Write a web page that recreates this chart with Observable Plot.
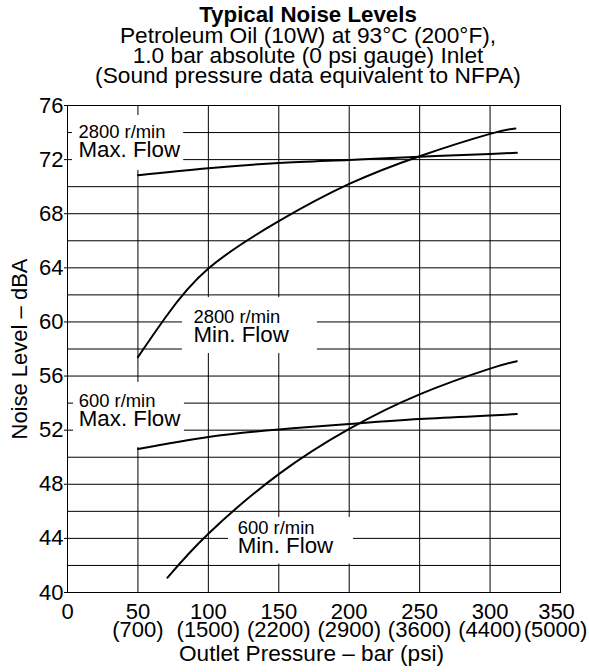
<!DOCTYPE html>
<html><head><meta charset="utf-8">
<script src="https://cdn.jsdelivr.net/npm/d3@7"></script>
<script src="https://cdn.jsdelivr.net/npm/@observablehq/plot@0.6"></script>
<style>
body{margin:0;background:#fff;font-family:"Liberation Sans",Arial,Helvetica,sans-serif;color:#000;}
#head{width:589px;height:88px;box-sizing:border-box;padding:5px 0 0 27px;text-align:center;font-size:22.7px;line-height:20px;}
#head .t{font-weight:bold;font-size:22.3px;}
#chart svg{display:block;}
</style></head><body>
<div id="head"><div class="t">Typical Noise Levels</div><div>Petroleum Oil (10W) at 93°C (200°F),</div><div>1.0 bar absolute (0 psi gauge) Inlet</div><div>(Sound pressure data equivalent to NFPA)</div></div>
<div id="chart"></div>
<script>
// ---- data ----
const xTicks = [0, 50, 100, 150, 200, 250, 300, 350];
const psiLabels = ["", "(700)", "(1500)", "(2200)", "(2900)", "(3600)", "(4400)", "(5000)"];
const yTicks = [40, 44, 48, 52, 56, 60, 64, 68, 72, 76];
const gridY = [42, 44, 46, 48, 50, 52, 54, 56, 58, 60, 62, 64, 66, 68, 70, 72, 74];
const gridX = [50, 100, 150, 200, 250, 300];

const bar2800Max = [50, 100, 150, 200, 250, 300, 319];
const dBA2800Max = [70.85, 71.37, 71.75, 71.98, 72.22, 72.42, 72.5];
const bar2800Min = [50, 70, 100, 150, 200, 250, 300, 318];
const dBA2800Min = [57.4, 60.4, 63.95, 67.45, 70.2, 72.25, 73.9, 74.3];
const bar600Max = [50, 100, 150, 200, 250, 300, 319];
const dBA600Max = [50.6, 51.5, 52.05, 52.45, 52.82, 53.08, 53.2];
const bar600Min = [71, 100, 150, 200, 250, 300, 319];
const dBA600Min = [41.1, 44.35, 48.75, 52.1, 54.65, 56.55, 57.1];

const labelSpeed = ["2800 r/min", "2800 r/min", "600 r/min", "600 r/min"];
const labelFlow = ["Max. Flow", "Min. Flow", "Max. Flow", "Min. Flow"];
// annotation layout (data units)
const labelX = [7.8, 89.4, 8.0, 120.9];
const labelY = [72.18, 58.5, 52.28, 42.89];
const boxX1 = [3.5, 81.6, 4.3, 114.3];
const boxX2 = [82.5, 177.4, 83, 203];
const boxY1 = [71.2, 57.67, 50.72, 42.1];
const boxY2 = [75.26, 61.8, 55.53, 45.55];

// ---- build tables ----
const series = [
  ["2800 Max", bar2800Max, dBA2800Max],
  ["2800 Min", bar2800Min, dBA2800Min],
  ["600 Max", bar600Max, dBA600Max],
  ["600 Min", bar600Min, dBA600Min]
];
const lineData = series.flatMap(([name, xs, ys]) => xs.map((x, i) => ({name, bar: x, dBA: ys[i]})));
const notes = labelSpeed.map((s, i) => ({
  speed: s, flow: labelFlow[i], x: labelX[i], y: labelY[i],
  x1: boxX1[i], x2: boxX2[i], y1: boxY1[i], y2: boxY2[i]
}));
const mainTicks = xTicks.slice(0, -1);
const lastTick = xTicks.slice(-1);
const psiOf = d => psiLabels[xTicks.indexOf(d)];

const chart = Plot.plot({
  width: 589,
  height: 584,
  marginTop: 17,
  marginBottom: 80,
  marginLeft: 67,
  marginRight: 29,
  style: {fontFamily: '"Liberation Sans", Arial, Helvetica, sans-serif', fontSize: "22px", background: "white", color: "black"},
  x: {domain: [0, 350]},
  y: {domain: [40, 76]},
  marks: [
    Plot.ruleY(gridY, {stroke: "#000", strokeWidth: 1}),
    Plot.ruleX(gridX, {stroke: "#000", strokeWidth: 1}),
    Plot.rect(notes, {x1: "x1", x2: "x2", y1: "y1", y2: "y2", fill: "white"}),
    Plot.frame({stroke: "#000"}),
    Plot.line(lineData, {x: "bar", y: "dBA", z: "name", curve: "natural", stroke: "#000", strokeWidth: 2}),
    Plot.text(notes, {x: "x", y: "y", text: "speed", dy: -19.5, textAnchor: "start", lineAnchor: "bottom", fontSize: 18.4, fill: "#000"}),
    Plot.text(notes, {x: "x", y: "y", text: "flow", textAnchor: "start", lineAnchor: "bottom", fontSize: 22.3, fill: "#000"}),
    Plot.axisY({ticks: yTicks, tickSize: 3, tickPadding: 1, fontSize: 22,
      label: "Noise Level – dBA", labelAnchor: "center", labelArrow: "none", labelOffset: 56}),
    Plot.axisX({ticks: mainTicks, tickSize: 0, tickPadding: 11, fontSize: 22, tickFormat: d => String(d), label: null}),
    Plot.axisX({ticks: lastTick, tickSize: 0, tickPadding: 11, fontSize: 22, dx: -4, tickFormat: d => String(d), label: null}),
    Plot.axisX({ticks: mainTicks, tickSize: 0, tickPadding: 28.7, fontSize: 22, tickFormat: psiOf, label: null}),
    Plot.axisX({ticks: lastTick, tickSize: 0, tickPadding: 28.7, fontSize: 22, dx: -5, tickFormat: psiOf, label: null}),
    Plot.text(["Outlet Pressure – bar (psi)"], {frameAnchor: "bottom", dx: -2.5, dy: 68.7, lineAnchor: "bottom", fontSize: 22.6, fill: "#000"})
  ]
});
document.getElementById("chart").appendChild(chart);
</script>
</body></html>
